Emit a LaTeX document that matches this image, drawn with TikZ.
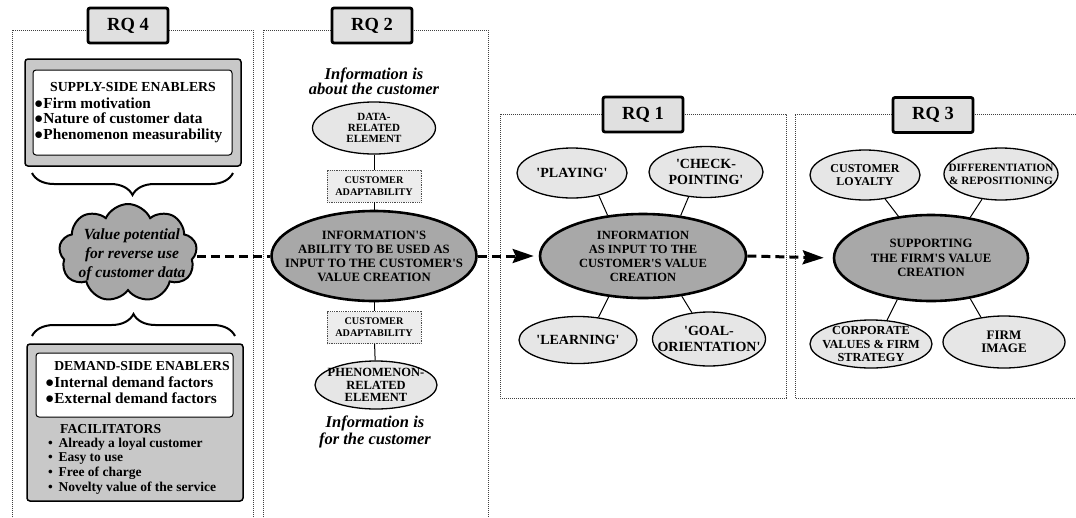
\documentclass[tikz,border=0pt]{standalone}
\usepackage{fontspec}
\setmainfont{Liberation Serif}[Ligatures=TeXOff]
\usetikzlibrary{shapes.geometric,shapes.symbols,arrows.meta,decorations.pathreplacing}
\definecolor{lightfill}{HTML}{E6E6E6}
\definecolor{darkfill}{HTML}{A8A8A8}
\definecolor{boxfill}{HTML}{C8C8C8}
\definecolor{rqfill}{HTML}{E0E0E0}
\definecolor{adaptfill}{HTML}{EDEDED}
\newcommand{\fsz}[2]{\fontsize{#1}{#2}\selectfont\bfseries}
\begin{document}
\begin{tikzpicture}[x=1pt,y=-1pt,
  dotbox/.style={draw=black!75, line width=0.9pt, dash pattern=on 0.9pt off 1.1pt},
  rqlabel/.style={draw, line width=2.8pt, fill=rqfill, rounded corners=2pt, minimum width=80pt, minimum height=35pt, inner sep=0pt, font=\fsz{18.5}{20}},
  smallell/.style={ellipse, draw, line width=1.3pt, fill=lightfill, inner sep=-60pt, align=center, font=\fsz{14}{16.5}},
  bigell/.style={ellipse, draw, line width=2.6pt, fill=darkfill, inner sep=-90pt, align=center, font=\fsz{12.7}{14}},
  adapt/.style={draw=black!70, line width=0.8pt, dash pattern=on 0.8pt off 1pt, fill=adaptfill, minimum width=94pt, minimum height=32pt, inner sep=0pt, align=center, font=\fsz{10.2}{12}},
  graybox/.style={draw, line width=1.5pt, fill=boxfill, rounded corners=3pt},
  whitebox/.style={draw, line width=1pt, fill=white, rounded corners=3pt},
  flow/.style={line width=3pt, dash pattern=on 9pt off 5pt},
  flowarrow/.style={flow, -{Stealth[length=21pt, width=14pt, inset=3pt]}},
  link/.style={line width=1pt},
  bracestyle/.style={line width=2pt, decorate},
  infotext/.style={align=center, font=\fsz{16.5}{15}\itshape}
]
\useasboundingbox (0,0) rectangle (1076,517);

% dotted frames
\draw[dotbox] (12,517) -- (12,30) -- (253,30) -- (253,517);
\draw[dotbox] (263,517) -- (263,30) -- (488,30) -- (488,517);
\draw[dotbox] (500,114) rectangle (786,398);
\draw[dotbox] (1076,114) -- (795,114) -- (795,398) -- (1076,398);

% RQ labels
\node[rqlabel] (rq4) at (128,25.5) {RQ 4};
\node[rqlabel] (rq2) at (372,25.5) {RQ 2};
\node[rqlabel] (rq1) at (643,114.5) {RQ 1};
\node[rqlabel] (rq3) at (933,115) {RQ 3};

% ---------- RQ 4 column ----------
\draw[graybox] (25,59) rectangle (241,166);
\draw[whitebox] (33,70) rectangle (232,155);
\node[font=\fsz{13.8}{15}] (suptitle) at (133,87) {SUPPLY-SIDE ENABLERS};
\node[anchor=west, align=left, inner sep=0pt, font=\fsz{15.3}{15.5}] (suplist) at (34,120) {●Firm motivation\\●Nature of customer data\\●Phenomenon measurability};

\draw[bracestyle, decoration={brace, amplitude=22pt, mirror}] (32,173) -- (233,173);

\node[cloud, cloud puffs=9, cloud puff arc=130, aspect=1.4, draw, line width=2pt, fill=darkfill, minimum width=138pt, minimum height=98pt, inner sep=0pt] (cloud) at (128,253) {};
\node[align=center, font=\fsz{15.5}{19}\itshape] (cloudtxt) at (132,255) {Value potential\\for reverse use\\of customer data};

\draw[bracestyle, decoration={brace, amplitude=22pt}] (32,336) -- (235,336);

\draw[graybox] (27,344) rectangle (243,501);
\draw[whitebox] (36,353) rectangle (233,417);
\node[font=\fsz{13.7}{15}] (demtitle) at (142,366) {DEMAND-SIDE ENABLERS};
\node[anchor=west, align=left, inner sep=0pt, font=\fsz{15.3}{15.5}] (demlist) at (45,390) {●Internal demand factors\\●External demand factors};
\node[anchor=west, inner sep=0pt, font=\fsz{13.7}{15}] (factitle) at (60,429) {FACILITATORS};
\node[anchor=west, align=left, inner sep=0pt, font=\fsz{13.5}{14.7}] (faclist) at (48,466) {•\ \,Already a loyal customer\\•\ \,Easy to use\\•\ \,Free of charge\\•\ \,Novelty value of the service};

% ---------- RQ 2 column ----------
\node[infotext] (about) at (374,81) {Information is\\about the customer};
\node[smallell, minimum width=123pt, minimum height=52pt, font=\fsz{11}{11}] (data) at (374,128) {DATA-\\RELATED\\ELEMENT};
\node[adapt] (adapt1) at (374,186) {CUSTOMER\\ADAPTABILITY};
\node[bigell, minimum width=205pt, minimum height=90pt] (rq2c) at (374,256) {INFORMATION'S\\ABILITY TO BE USED AS\\INPUT TO THE CUSTOMER'S\\VALUE CREATION};
\node[adapt] (adapt2) at (374,327.5) {CUSTOMER\\ADAPTABILITY};
\node[smallell, minimum width=122pt, minimum height=48pt, font=\fsz{12.5}{12.5}] (phen) at (376,385) {PHENOMENON-\\RELATED\\ELEMENT};
\node[infotext] (for) at (375,432) {Information is\\for the customer};

\draw[link] (data) -- (adapt1);
\draw[link] (adapt1) -- (rq2c);
\draw[link] (rq2c) -- (adapt2);
\draw[link] (adapt2) -- (phen);

% ---------- RQ 1 ----------
\node[bigell, minimum width=206pt, minimum height=84pt, font=\fsz{12.5}{14}] (rq1c) at (643,256) {INFORMATION\\AS INPUT TO THE\\CUSTOMER'S VALUE\\CREATION};
\node[smallell, minimum width=110pt, minimum height=50pt] (play) at (572,173) {'PLAYING'};
\node[smallell, minimum width=114pt, minimum height=51pt] (check) at (706,172) {'CHECK-\\POINTING'};
\node[smallell, minimum width=118pt, minimum height=47pt] (learn) at (578,340) {'LEARNING'};
\node[smallell, minimum width=113pt, minimum height=54pt] (goal) at (709,339) {'GOAL-\\ORIENTATION'};
\draw[link] (play.-40) -- (rq1c.131);
\draw[link] (check.235) -- (rq1c.47);
\draw[link] (learn.48) -- (rq1c.230);
\draw[link] (goal.123) -- (rq1c.-46);

% ---------- RQ 3 ----------
\node[bigell, minimum width=194pt, minimum height=86pt, font=\fsz{12.7}{14.3}] (rq3c) at (931,258) {SUPPORTING\\THE FIRM'S VALUE\\CREATION};
\node[smallell, minimum width=110pt, minimum height=50pt, font=\fsz{12}{13}] (loyal) at (865,175) {CUSTOMER\\LOYALTY};
\node[smallell, minimum width=114pt, minimum height=52pt, font=\fsz{11.2}{12.7}] (diff) at (1001,174) {DIFFERENTIATION\\\& REPOSITIONING};
\node[smallell, minimum width=122pt, minimum height=48pt, font=\fsz{12.3}{13.3}] (corp) at (871,344) {CORPORATE\\VALUES \& FIRM\\STRATEGY};
\node[smallell, minimum width=122pt, minimum height=52pt, font=\fsz{13}{12.5}] (image) at (1004,342) {FIRM\\IMAGE};
\draw[link] (loyal.-50) -- (rq3c.128);
\draw[link] (diff.233) -- (rq3c.46);
\draw[link] (corp.56) -- (rq3c.231);
\draw[link] (image.133) -- (rq3c.-46);

% ---------- flow ----------
\draw[flow] (cloud.east |- rq2c.west) -- (rq2c.west);
\draw[flowarrow, shorten >=5pt] (rq2c.east) -- (rq1c.west);
\draw[flowarrow, shorten >=9pt] (rq1c.east) -- (rq3c.west);
\end{tikzpicture}
\end{document}
